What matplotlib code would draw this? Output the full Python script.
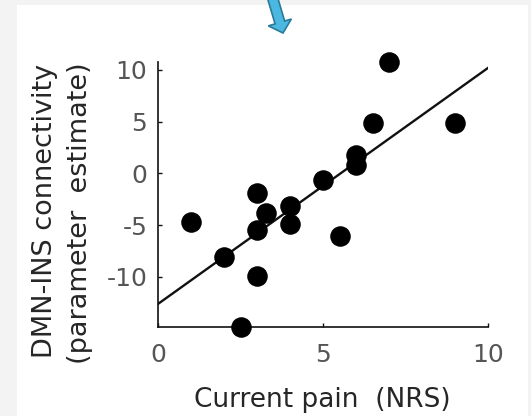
import matplotlib.pyplot as plt
from matplotlib.patches import Rectangle, FancyArrow
from matplotlib.transforms import IdentityTransform

plt.rcParams["axes.unicode_minus"] = False
plt.rcParams["font.family"] = "DejaVu Sans"

# -----------------------------
# Data
# -----------------------------
pain = [7.0, 6.5, 9.0, 6.0, 6.0, 5.0, 3.0, 3.25, 4.0, 4.0, 3.0, 1.0, 5.5, 2.0, 3.0, 2.5]
connectivity = [10.8, 4.9, 4.9, 1.8, 0.8, -0.6, -1.9, -3.8, -3.2, -4.85, -5.45, -4.75,
                -6.1, -8.05, -9.9, -14.8]

# regression line endpoints
fit_x = [0, 10]
fit_y = [-12.6, 10.2]

x_ticks = [0, 5, 10]
y_ticks = [-10, -5, 0, 5, 10]

W, H = 531, 416

# -----------------------------
# Figure + background panel
# -----------------------------
fig = plt.figure(figsize=(W / 100, H / 100), dpi=100)
fig.patch.set_facecolor("#f3f3f3")
fig.patches.append(Rectangle((17 / W, 0), (528 - 17) / W, (H - 5) / H,
                             transform=fig.transFigure, facecolor="white",
                             edgecolor="none", zorder=-5))

# blue arrow at the top (pixel coords, origin bottom-left)
fig.patches.append(FancyArrow(272, H + 4, 11, -37, width=10, head_width=24,
                              head_length=11, length_includes_head=True,
                              transform=IdentityTransform(),
                              facecolor="#4ab8e0", edgecolor="#2b7a98", linewidth=1.2,
                              zorder=5))

ax = fig.add_axes([158.3 / W, 1 - 326.5 / H, 330 / W, 265 / H])
ax.set_facecolor("none")

ax.plot(fit_x, fit_y, color="#111111", linewidth=1.7, zorder=2)
ax.scatter(pain, connectivity, s=190, color="black", zorder=3, clip_on=False)

ax.set_xlim(0, 10)
ax.set_ylim(-14.8, 10.8)
ax.set_xticks(x_ticks)
ax.set_yticks(y_ticks)

for side in ["top", "right"]:
    ax.spines[side].set_visible(False)
for side in ["left", "bottom"]:
    ax.spines[side].set_linewidth(1.2)
    ax.spines[side].set_color("#111111")

ax.tick_params(axis="both", direction="in", length=3, width=1, color="#111111",
               labelsize=18, labelcolor="#555555")
ax.tick_params(axis="x", pad=12)
ax.tick_params(axis="y", pad=8)

fig.text(322 / W, 1 - 407 / H, "Current pain  (NRS)", fontsize=19,
         color="#262626", ha="center", va="baseline")

fig.text(45 / W, 1 - 211 / H, "DMN-INS connectivity", rotation=90, fontsize=19.5,
         color="#262626", ha="center", va="center")
fig.text(80 / W, 1 - 213 / H, "(parameter  estimate)", rotation=90, fontsize=19.5,
         color="#262626", ha="center", va="center")

fig.savefig("out.png", dpi=100)
